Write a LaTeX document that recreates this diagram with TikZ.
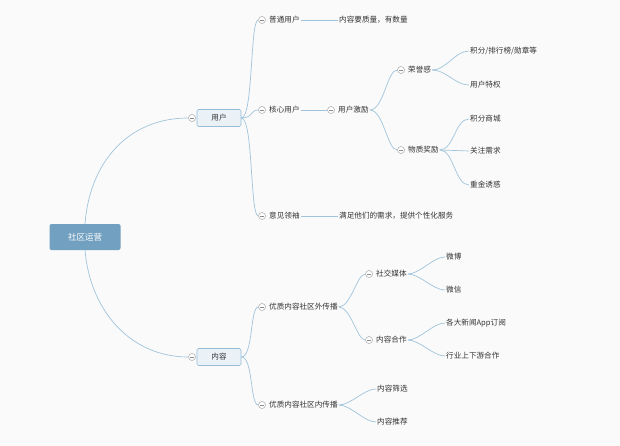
\documentclass[tikz,border=0pt]{standalone}
\usepackage{fontspec}
\setmainfont{Noto Sans CJK SC}
\definecolor{lnc}{RGB}{160,196,220}
\definecolor{boxb}{RGB}{150,188,214}
\definecolor{boxf}{RGB}{234,242,248}
\definecolor{rootc}{RGB}{114,160,192}
\begin{document}
\begin{tikzpicture}[x=1pt,y=-1pt,
  every node/.style={font=\fontsize{7.6}{9}\selectfont, text=black!80},
  lbl/.style={anchor=west,inner sep=1pt},
  tog/.style={circle,draw=black!35,fill=white,minimum size=7pt,inner sep=0pt,line width=0.5pt,
    path picture={\draw[black!45,line width=0.5pt] ([xshift=-2pt]path picture bounding box.center)--([xshift=2pt]path picture bounding box.center);}},
  box/.style={draw=boxb,fill=boxf,rounded corners=1.5pt,minimum width=44pt,minimum height=17pt,inner sep=0pt,line width=0.6pt},
  ln/.style={draw=lnc,line width=0.7pt},
]
\useasboundingbox (0,0) rectangle (620,446);
\fill[white!98!black] (0,0) rectangle (620,446);
\node[fill=rootc,rounded corners=2pt,minimum width=71pt,minimum height=26pt,text=white,font=\fontsize{8.5}{10}\selectfont] (root) at (85,237) {社区运营};
\node[box] (user) at (219,118) {用户};
\node[box] (cont) at (219,357) {内容};
\node[tog] (tu) at (192,118) {};
\node[tog] (tc) at (192,357) {};
\draw[ln] (root.north) .. controls (90,160) and (130,118) .. (tu);
\draw[ln] (root.south) .. controls (90,310) and (130,357) .. (tc);
% user children
\node[tog] (c1) at (262,20) {}; \node[lbl] (n1) at (268,20) {普通用户};
\node[tog] (c2) at (262,110) {}; \node[lbl] (n2) at (268,110) {核心用户};
\node[tog] (c3) at (262,216) {}; \node[lbl] (n3) at (268,216) {意见领袖};
\foreach \c in {c1,c2,c3} \draw[ln] (user.east) .. controls +(12,0) and +(-12,0) .. (\c);
\node[lbl] (n1a) at (338,20) {内容要质量，有数量};
\draw[ln] (n1.east) -- (n1a.west);
\node[lbl] (n3a) at (338,216) {满足他们的需求，提供个性化服务};
\draw[ln] (n3.east) -- (n3a.west);
\node[tog] (c4) at (331,110) {}; \node[lbl] (n4) at (337,110) {用户激励};
\draw[ln] (n2.east) -- (c4);
\node[tog] (c5) at (401,70) {}; \node[lbl] (n5) at (407,70) {荣誉感};
\node[tog] (c6) at (401,150) {}; \node[lbl] (n6) at (407,150) {物质奖励};
\foreach \c in {c5,c6} \draw[ln] (n4.east) .. controls +(14,0) and +(-14,0) .. (\c);
\node[lbl] (a1) at (469,51) {积分/排行榜/勋章等};
\node[lbl] (a2) at (469,85) {用户特权};
\foreach \c in {a1,a2} \draw[ln] (n5.east) .. controls +(14,0) and +(-14,0) .. (\c.west);
\node[lbl] (b1) at (469,119) {积分商城};
\node[lbl] (b2) at (469,151) {关注需求};
\node[lbl] (b3) at (469,185) {重金诱惑};
\foreach \c in {b1,b2,b3} \draw[ln] (n6.east) .. controls +(14,0) and +(-14,0) .. (\c.west);
% content children
\node[tog] (d1) at (262,307) {}; \node[lbl] (m1) at (268,307) {优质内容社区外传播};
\node[tog] (d2) at (262,405) {}; \node[lbl] (m2) at (268,405) {优质内容社区内传播};
\foreach \c in {d1,d2} \draw[ln] (cont.east) .. controls +(12,0) and +(-12,0) .. (\c);
\node[tog] (d3) at (369,274) {}; \node[lbl] (m3) at (375,274) {社交媒体};
\node[tog] (d4) at (369,340) {}; \node[lbl] (m4) at (375,340) {内容合作};
\foreach \c in {d3,d4} \draw[ln] (m1.east) .. controls +(12,0) and +(-12,0) .. (\c);
\node[lbl] (e1) at (445,257) {微博};
\node[lbl] (e2) at (445,290) {微信};
\foreach \c in {e1,e2} \draw[ln] (m3.east) .. controls +(12,0) and +(-12,0) .. (\c.west);
\node[lbl] (e3) at (445,323) {各大新闻App订阅};
\node[lbl] (e4) at (445,356) {行业上下游合作};
\foreach \c in {e3,e4} \draw[ln] (m4.east) .. controls +(12,0) and +(-12,0) .. (\c.west);
\node[lbl] (f1) at (376,389) {内容筛选};
\node[lbl] (f2) at (376,422) {内容推荐};
\foreach \c in {f1,f2} \draw[ln] (m2.east) .. controls +(12,0) and +(-12,0) .. (\c.west);
\end{tikzpicture}
\end{document}
